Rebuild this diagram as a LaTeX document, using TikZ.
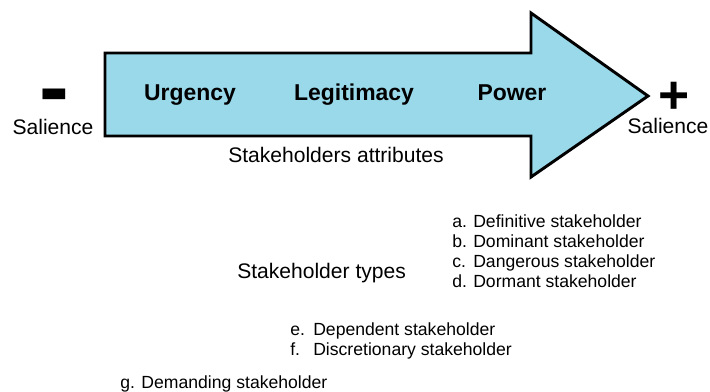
\documentclass[tikz,border=0pt]{standalone}
\usepackage{fontspec}
\setmainfont{Liberation Sans}
\definecolor{arrowblue}{RGB}{153,217,234}

\begin{document}
\begin{tikzpicture}[
  x=0.75pt,y=-0.75pt,
  lbl/.style={inner sep=0pt,anchor=base,font=\fontsize{15.8}{18}\selectfont},
  attr/.style={inner sep=0pt,anchor=base,font=\fontsize{17.2}{20}\selectfont\bfseries},
  item/.style={inner sep=0pt,anchor=base west,font=\fontsize{13.2}{15}\selectfont},
  sign/.style={inner sep=0pt,anchor=base,text depth=0pt}
]
  \useasboundingbox (0,0) rectangle (710,392);

  % big arrow
  \draw[fill=arrowblue,line width=2.2pt,line join=miter]
    (105,53) -- (531,53) -- (531,13) -- (648,96) -- (531,177) -- (531,136) -- (105,136) -- cycle;

  \node[attr] (urg) at (190,101) {Urgency};
  \node[attr] (leg) at (354,101) {Legitimacy};
  \node[attr] (pow) at (512,101) {Power};
  \node[lbl] (attrs) at (336,163) {Stakeholders attributes};

  % salience ends
  \node[sign,text height=.32em,font=\fontsize{67}{67}\selectfont\bfseries] (minus) at (54,118) {-};
  \node[lbl] (sal-l) at (53,135) {Salience};
  \node[sign,text height=.6em,font=\fontsize{40}{40}\selectfont\bfseries] (plus) at (674,114) {+};
  \node[lbl] (sal-r) at (668,134) {Salience};

  % stakeholder types
  \node[lbl,anchor=base west] (types) at (237,278) {Stakeholder types};
  \foreach \l/\t [count=\i] in {a/Definitive,b/Dominant,c/Dangerous,d/Dormant}{
    \node[item] (k\l) at (452,{207+20*\i}) {\l.};
    \node[item] (t\l) at (473,{207+20*\i}) {\t\ stakeholder};
  }
  \foreach \l/\t [count=\i] in {e/Dependent,f/Discretionary}{
    \node[item] (k\l) at (290,{315+20*\i}) {\l.};
    \node[item] (t\l) at (313,{315+20*\i}) {\t\ stakeholder};
  }
  \node[item] (tg) at (120,388) {g. Demanding stakeholder};
\end{tikzpicture}
\end{document}
